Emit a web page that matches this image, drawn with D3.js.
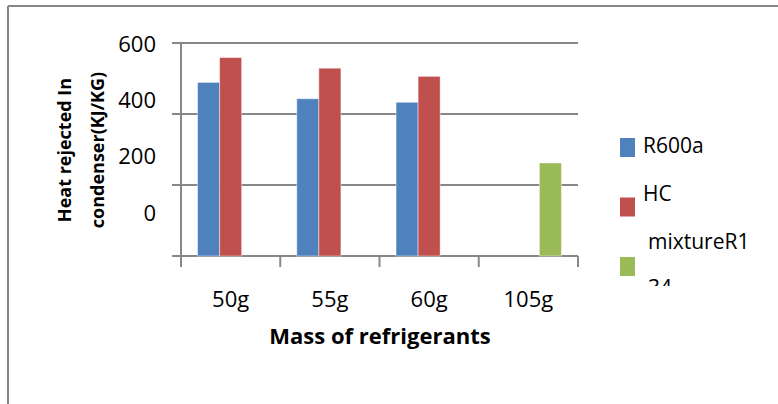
<!DOCTYPE html>
<html>
<head>
<meta charset="utf-8">
<script src="https://cdn.jsdelivr.net/npm/d3@7"></script>
<style>
  body { margin: 0; background: #fff; }
  svg { display: block; font-family: "Open Sans", sans-serif; }
</style>
</head>
<body>
<svg width="778" height="404"></svg>
<script>
const categories = ["50g", "55g", "60g", "105g"];
const seriesNames = ["R600a", "HC", "mixtureR134"];
const colors = ["#4F81BD", "#C0504D", "#9BBB59"];
const r600a = [489, 443, 433, null];
const hc = [559, 529, 506, null];
const mixture = [null, null, null, 262];
const tickLabels = ["600", "400", "200", "0"];
const gridValues = [0, 200, 400, 600];

const svg = d3.select("svg");
const grey = "#878787";

// outer chart frame (top and left edges visible)
svg.append("line").attr("x1", 8).attr("y1", 6).attr("x2", 778).attr("y2", 6)
  .attr("stroke", grey).attr("stroke-width", 2);
svg.append("line").attr("x1", 8).attr("y1", 6).attr("x2", 8).attr("y2", 404)
  .attr("stroke", grey).attr("stroke-width", 2);

const x = d3.scaleBand().domain(categories).range([181, 578]);
const slot = d3.scaleBand().domain(seriesNames).range([0, x.bandwidth()]).paddingOuter(0.75);
const y = d3.scaleLinear().domain([0, 600]).range([256, 43]);

// gridlines
svg.selectAll(".grid").data(gridValues).enter().append("line")
  .attr("class", "grid")
  .attr("x1", 172).attr("x2", 578)
  .attr("y1", d => y(d)).attr("y2", d => y(d))
  .attr("stroke", grey).attr("stroke-width", 2);

// axes lines + category ticks
svg.append("line").attr("x1", 181).attr("x2", 181).attr("y1", 43).attr("y2", 267)
  .attr("stroke", grey).attr("stroke-width", 2);
const tickX = categories.map(c => x(c)).concat([x.range()[1]]);
svg.selectAll(".xtick").data(tickX.slice(1)).enter().append("line")
  .attr("class", "xtick")
  .attr("x1", d => d).attr("x2", d => d).attr("y1", 256).attr("y2", 267)
  .attr("stroke", grey).attr("stroke-width", 2);

// bars
const series = [r600a, hc, mixture];
series.forEach((vals, si) => {
  const data = categories.map((c, i) => ({ c, v: vals[i] })).filter(d => d.v != null);
  svg.selectAll(".bar" + si).data(data).enter().append("rect")
    .attr("class", "bar" + si)
    .attr("x", d => x(d.c) + slot(seriesNames[si]))
    .attr("width", slot.bandwidth())
    .attr("y", d => y(d.v))
    .attr("height", d => y(0) - y(d.v))
    .attr("fill", colors[si])
    .attr("stroke", "rgba(255,255,255,0.45)")
    .attr("stroke-width", 1);
});

// y tick labels (placed unevenly as in the original)
const yl = d3.scalePoint().domain(tickLabels).range([44, 213]);
svg.selectAll(".ylab").data(tickLabels).enter().append("text")
  .attr("class", "ylab")
  .attr("x", 156).attr("y", d => yl(d))
  .attr("dy", "0.35em")
  .attr("text-anchor", "end")
  .attr("font-size", 22)
  .attr("fill", "#000")
  .text(d => d);

// x labels
svg.selectAll(".xlab").data(categories).enter().append("text")
  .attr("class", "xlab")
  .attr("x", d => x(d) + x.bandwidth() / 2)
  .attr("y", 307)
  .attr("text-anchor", "middle")
  .attr("font-size", 22)
  .text(d => d);

// axis titles
svg.append("text")
  .attr("x", 380).attr("y", 344)
  .attr("text-anchor", "middle")
  .attr("font-size", 22).attr("font-weight", "bold")
  .text("Mass of refrigerants");

const yt = svg.append("text")
  .attr("transform", "translate(0,150) rotate(-90)")
  .attr("text-anchor", "middle")
  .attr("font-size", 18).attr("font-weight", "bold");
yt.append("tspan").attr("x", 0).attr("y", 71).text("Heat rejected In");
yt.append("tspan").attr("x", 0).attr("y", 104).text("condenser(KJ/KG)");

// legend
svg.append("clipPath").attr("id", "legclip")
  .append("rect").attr("x", 600).attr("y", 120).attr("width", 178).attr("height", 166);
const leg = svg.append("g").attr("clip-path", "url(#legclip)");
const legSquareY = d3.scalePoint().domain(seriesNames).range([138, 257]);
leg.selectAll(".lsq").data(seriesNames).enter().append("rect")
  .attr("class", "lsq")
  .attr("x", 620).attr("y", d => legSquareY(d))
  .attr("width", 15).attr("height", 19)
  .attr("fill", (d, i) => colors[i]);

const legendLines = [["R600a"], ["HC"], ["mixtureR1", "34"]];
const legBaseline = [153, 201, 249];
const legX = [643, 643, 648];
legendLines.forEach((lines, i) => {
  lines.forEach((t, j) => {
    leg.append("text")
      .attr("x", legX[i]).attr("y", legBaseline[i] + j * 46)
      .attr("font-size", 21)
      .text(t);
  });
});
</script>
</body>
</html>
